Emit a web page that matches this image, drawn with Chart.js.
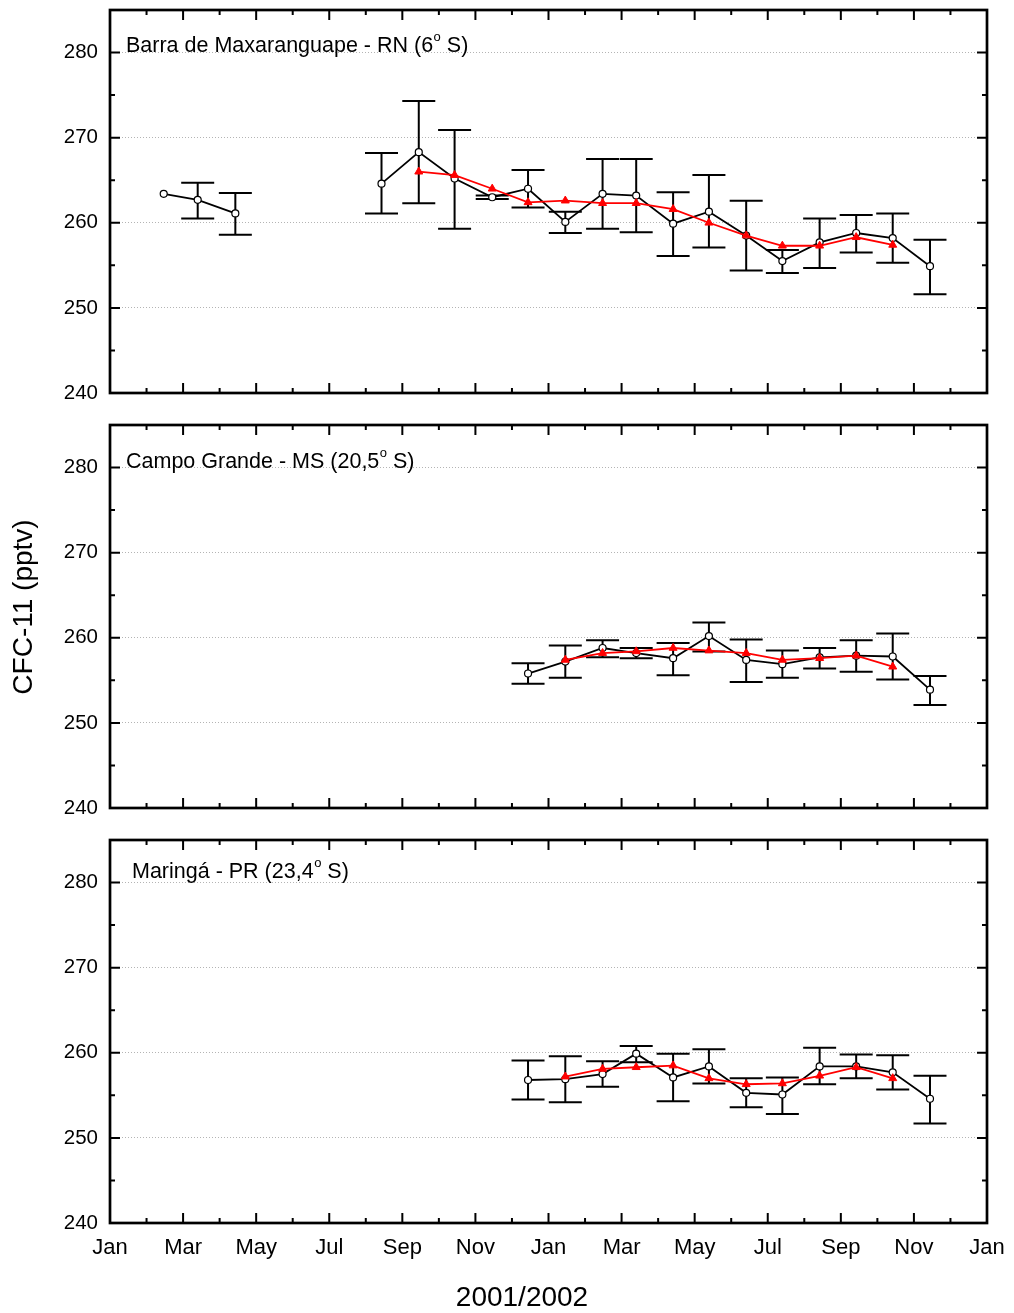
<!DOCTYPE html>
<html>
<head>
<meta charset="utf-8">
<title>CFC-11 2001/2002</title>
<script src="https://cdn.jsdelivr.net/npm/chart.js"></script>
<style>
    body { margin: 0; background: #fff; }
    #wrap { position: relative; width: 1014px; height: 1313px; }
    canvas { position: absolute; left: 0; }
</style>
</head>
<body>
<div id="wrap">
    <canvas id="barraChart" width="1014" height="403" style="top:0px"></canvas>
    <canvas id="campoChart" width="1014" height="403" style="top:415px"></canvas>
    <canvas id="maringaChart" width="1014" height="483" style="top:830px"></canvas>
</div>
<script>
// tick labels for the month axis (every 2nd month, Jan 2001 .. Jan 2003)
var monthLabels = ['Jan', 'Mar', 'May', 'Jul', 'Sep', 'Nov', 'Jan', 'Mar', 'May', 'Jul', 'Sep', 'Nov', 'Jan'];

// x = months since 1 Jan 2001
// Barra de Maxaranguape - monthly means (black) with error bars, running mean (red)
var barraX  = [1.47, 2.40, 3.43, 7.43, 8.45, 9.43, 10.46, 11.44, 12.46, 13.48, 14.40, 15.41, 16.39, 17.41, 18.40, 19.42, 20.42, 21.42, 22.44];
var barraY  = [263.4, 262.7, 261.1, 264.6, 268.3, 265.2, 263.0, 264.0, 260.1, 263.4, 263.2, 259.9, 261.3, 258.5, 255.5, 257.7, 258.8, 258.2, 254.9];
var barraHi = [null, 264.7, 263.5, 268.2, 274.3, 270.9, 263.2, 266.2, 261.3, 267.5, 267.5, 263.6, 265.6, 262.6, 256.8, 260.5, 260.9, 261.1, 258.0];
var barraLo = [null, 260.5, 258.6, 261.1, 262.3, 259.3, 262.8, 261.8, 258.8, 259.3, 258.9, 256.1, 257.1, 254.4, 254.1, 254.7, 256.5, 255.3, 251.6];
var barraAvgX = [8.45, 9.43, 10.46, 11.44, 12.46, 13.48, 14.40, 15.41, 16.39, 17.41, 18.40, 19.42, 20.42, 21.42];
var barraAvgY = [266.0, 265.6, 264.0, 262.4, 262.6, 262.3, 262.3, 261.6, 260.0, 258.5, 257.3, 257.3, 258.3, 257.4];

// Campo Grande
var campoX  = [11.44, 12.46, 13.48, 14.40, 15.41, 16.39, 17.41, 18.40, 19.42, 20.42, 21.42, 22.44];
var campoY  = [255.8, 257.2, 258.8, 258.2, 257.6, 260.2, 257.4, 256.9, 257.7, 257.9, 257.8, 253.9];
var campoHi = [257.0, 259.1, 259.7, 258.8, 259.4, 261.8, 259.8, 258.5, 258.8, 259.7, 260.5, 255.5];
var campoLo = [254.6, 255.3, 257.7, 257.6, 255.6, 258.4, 254.8, 255.3, 256.4, 256.0, 255.1, 252.1];
var campoAvgX = [12.46, 13.48, 14.40, 15.41, 16.39, 17.41, 18.40, 19.42, 20.42, 21.42];
var campoAvgY = [257.4, 258.2, 258.4, 258.8, 258.5, 258.2, 257.4, 257.6, 257.9, 256.6];

// Maringá
var maringaX  = [11.44, 12.46, 13.48, 14.40, 15.41, 16.39, 17.41, 18.40, 19.42, 20.42, 21.42, 22.44];
var maringaY  = [256.8, 256.9, 257.5, 259.9, 257.1, 258.4, 255.3, 255.1, 258.4, 258.4, 257.7, 254.6];
var maringaHi = [259.1, 259.6, 259.0, 260.8, 259.9, 260.4, 257.0, 257.1, 260.6, 259.8, 259.7, 257.3];
var maringaLo = [254.5, 254.2, 256.0, 258.9, 254.3, 256.4, 253.6, 252.8, 256.3, 257.0, 255.7, 251.7];
var maringaAvgX = [12.46, 13.48, 14.40, 15.41, 16.39, 17.41, 18.40, 19.42, 20.42, 21.42];
var maringaAvgY = [257.2, 258.1, 258.3, 258.5, 257.0, 256.3, 256.4, 257.3, 258.3, 257.0];

var FONT = "'Liberation Sans', Arial, sans-serif";

function toPoints(xs, ys) {
    return xs.map(function(x, i) { return { x: x, y: ys[i] }; });
}

// frame, inward ticks, error bars, station label
function panelPlugin(cfg) {
    return {
        id: 'panelDecor',
        beforeDatasetsDraw: function(chart) {
            var ctx = chart.ctx, xs = chart.scales.x, ys = chart.scales.y;
            ctx.save();
            ctx.strokeStyle = '#000';
            ctx.lineWidth = 2;
            cfg.errX.forEach(function(x, i) {
                if (cfg.errHi[i] == null) return;
                var px = xs.getPixelForValue(x);
                var top = ys.getPixelForValue(cfg.errHi[i]);
                var bot = ys.getPixelForValue(cfg.errLo[i]);
                ctx.beginPath();
                ctx.moveTo(px, top); ctx.lineTo(px, bot);
                ctx.moveTo(px - 16.5, top); ctx.lineTo(px + 16.5, top);
                ctx.moveTo(px - 16.5, bot); ctx.lineTo(px + 16.5, bot);
                ctx.stroke();
            });
            ctx.restore();
        },
        afterDraw: function(chart) {
            var ctx = chart.ctx, a = chart.chartArea;
            var xs = chart.scales.x, ys = chart.scales.y;
            ctx.save();
            ctx.strokeStyle = '#000';
            ctx.lineWidth = 2;
            ctx.beginPath();
            ys.ticks.forEach(function(t) {
                var py = ys.getPixelForValue(t.value);
                var len = t.value % 10 === 0 ? 10 : 5;
                ctx.moveTo(a.left, py); ctx.lineTo(a.left + len, py);
                ctx.moveTo(a.right, py); ctx.lineTo(a.right - len, py);
            });
            xs.ticks.forEach(function(t) {
                var px = xs.getPixelForValue(t.value);
                var len = t.value % 2 === 0 ? 10 : 5;
                ctx.moveTo(px, a.bottom); ctx.lineTo(px, a.bottom - len);
                ctx.moveTo(px, a.top); ctx.lineTo(px, a.top + len);
            });
            ctx.stroke();
            ctx.lineWidth = 2.7;
            ctx.strokeRect(a.left, a.top, a.right - a.left, a.bottom - a.top);

            // station label with superscript degree "o"
            ctx.fillStyle = '#000';
            ctx.textBaseline = 'alphabetic';
            ctx.textAlign = 'left';
            ctx.font = '21.5px ' + FONT;
            var x = cfg.labelX, y = cfg.labelY;
            ctx.fillText(cfg.label[0], x, y);
            x += ctx.measureText(cfg.label[0]).width;
            ctx.font = '13px ' + FONT;
            ctx.fillText('o', x + 0.5, y - 11);
            x += ctx.measureText('o').width + 0.5;
            ctx.font = '21.5px ' + FONT;
            ctx.fillText(cfg.label[1], x, y);

            if (cfg.yTitle) {
                ctx.save();
                ctx.font = '28px ' + FONT;
                ctx.textAlign = 'center';
                ctx.translate(32, cfg.yTitle);
                ctx.rotate(-Math.PI / 2);
                ctx.fillText('CFC-11 (pptv)', 0, 0);
                ctx.restore();
            }
            if (cfg.xTitle) {
                ctx.font = '28px ' + FONT;
                ctx.textAlign = 'center';
                ctx.fillText('2001/2002', 522, cfg.xTitle);
            }
            ctx.restore();
        }
    };
}

function createPanel(canvasId, cfg) {
    var ctx = document.getElementById(canvasId).getContext('2d');
    return new Chart(ctx, {
        type: 'line',
        data: {
            datasets: [{
                label: 'mean',
                data: toPoints(cfg.avgX, cfg.avgY),
                borderColor: '#ff0000',
                backgroundColor: '#ff0000',
                borderWidth: 1.8,
                pointStyle: 'triangle',
                pointRadius: 4.6,
                pointBorderWidth: 1,
                pointBorderColor: '#ff0000',
                pointBackgroundColor: '#ff0000',
                tension: 0
            }, {
                label: 'CFC-11',
                data: toPoints(cfg.x, cfg.y),
                borderColor: '#000',
                borderWidth: 1.8,
                pointStyle: 'circle',
                pointRadius: 3.5,
                pointBorderWidth: 1.2,
                pointBorderColor: '#000',
                pointBackgroundColor: '#fff',
                tension: 0,
                segment: {
                    // no line across the months without samples
                    borderColor: function(s) {
                        return s.p1.parsed.x - s.p0.parsed.x > 2 ? 'rgba(0,0,0,0)' : '#000';
                    }
                }
            }]
        },
        options: {
            responsive: false,
            animation: false,
            layout: { padding: { top: 10, right: 27, left: 0, bottom: 0 } },
            plugins: { legend: { display: false }, tooltip: { enabled: false } },
            scales: {
                x: {
                    type: 'linear',
                    min: 0,
                    max: 24,
                    grid: { display: false, drawTicks: false },
                    border: { display: false },
                    ticks: {
                        display: cfg.showX,
                        stepSize: 1,
                        autoSkip: false,
                        maxRotation: 0,
                        padding: 12,
                        color: '#000',
                        font: { family: FONT, size: 22 },
                        callback: function(v) { return v % 2 === 0 ? monthLabels[v / 2] : ''; }
                    },
                    afterFit: function(scale) {
                        scale.height = cfg.xHeight;
                        scale.paddingLeft = 0;
                        scale.paddingRight = 0;
                    }
                },
                y: {
                    min: 240,
                    max: 285,
                    grid: {
                        drawTicks: false,
                        lineWidth: 1,
                        color: function(c) {
                            var v = c.tick.value;
                            return (v % 10 === 0 && v > 240) ? '#b4b4b4' : 'rgba(0,0,0,0)';
                        }
                    },
                    border: { display: false, dash: [1, 2] },
                    ticks: {
                        stepSize: 5,
                        padding: 12,
                        color: '#000',
                        font: { family: FONT, size: 20.5 },
                        callback: function(v) { return v % 10 === 0 ? v : ''; }
                    },
                    afterFit: function(scale) {
                        scale.width = 110;
                        scale.paddingTop = 0;
                        scale.paddingBottom = 0;
                    }
                }
            }
        },
        plugins: [panelPlugin({
            errX: cfg.x, errHi: cfg.hi, errLo: cfg.lo,
            label: cfg.label, labelX: cfg.labelX, labelY: cfg.labelY,
            yTitle: cfg.yTitle, xTitle: cfg.xTitle
        })]
    });
}

createPanel('barraChart', {
    x: barraX, y: barraY, hi: barraHi, lo: barraLo, avgX: barraAvgX, avgY: barraAvgY,
    label: ['Barra de Maxaranguape - RN (6', ' S)'], labelX: 126, labelY: 51.7,
    showX: false, xHeight: 10
});
createPanel('campoChart', {
    x: campoX, y: campoY, hi: campoHi, lo: campoLo, avgX: campoAvgX, avgY: campoAvgY,
    label: ['Campo Grande - MS (20,5', ' S)'], labelX: 126, labelY: 52.7,
    showX: false, xHeight: 10, yTitle: 607 - 415
});
createPanel('maringaChart', {
    x: maringaX, y: maringaY, hi: maringaHi, lo: maringaLo, avgX: maringaAvgX, avgY: maringaAvgY,
    label: ['Maringá - PR (23,4', ' S)'], labelX: 132, labelY: 48.3,
    showX: true, xHeight: 90, xTitle: 476
});
</script>
</body>
</html>
